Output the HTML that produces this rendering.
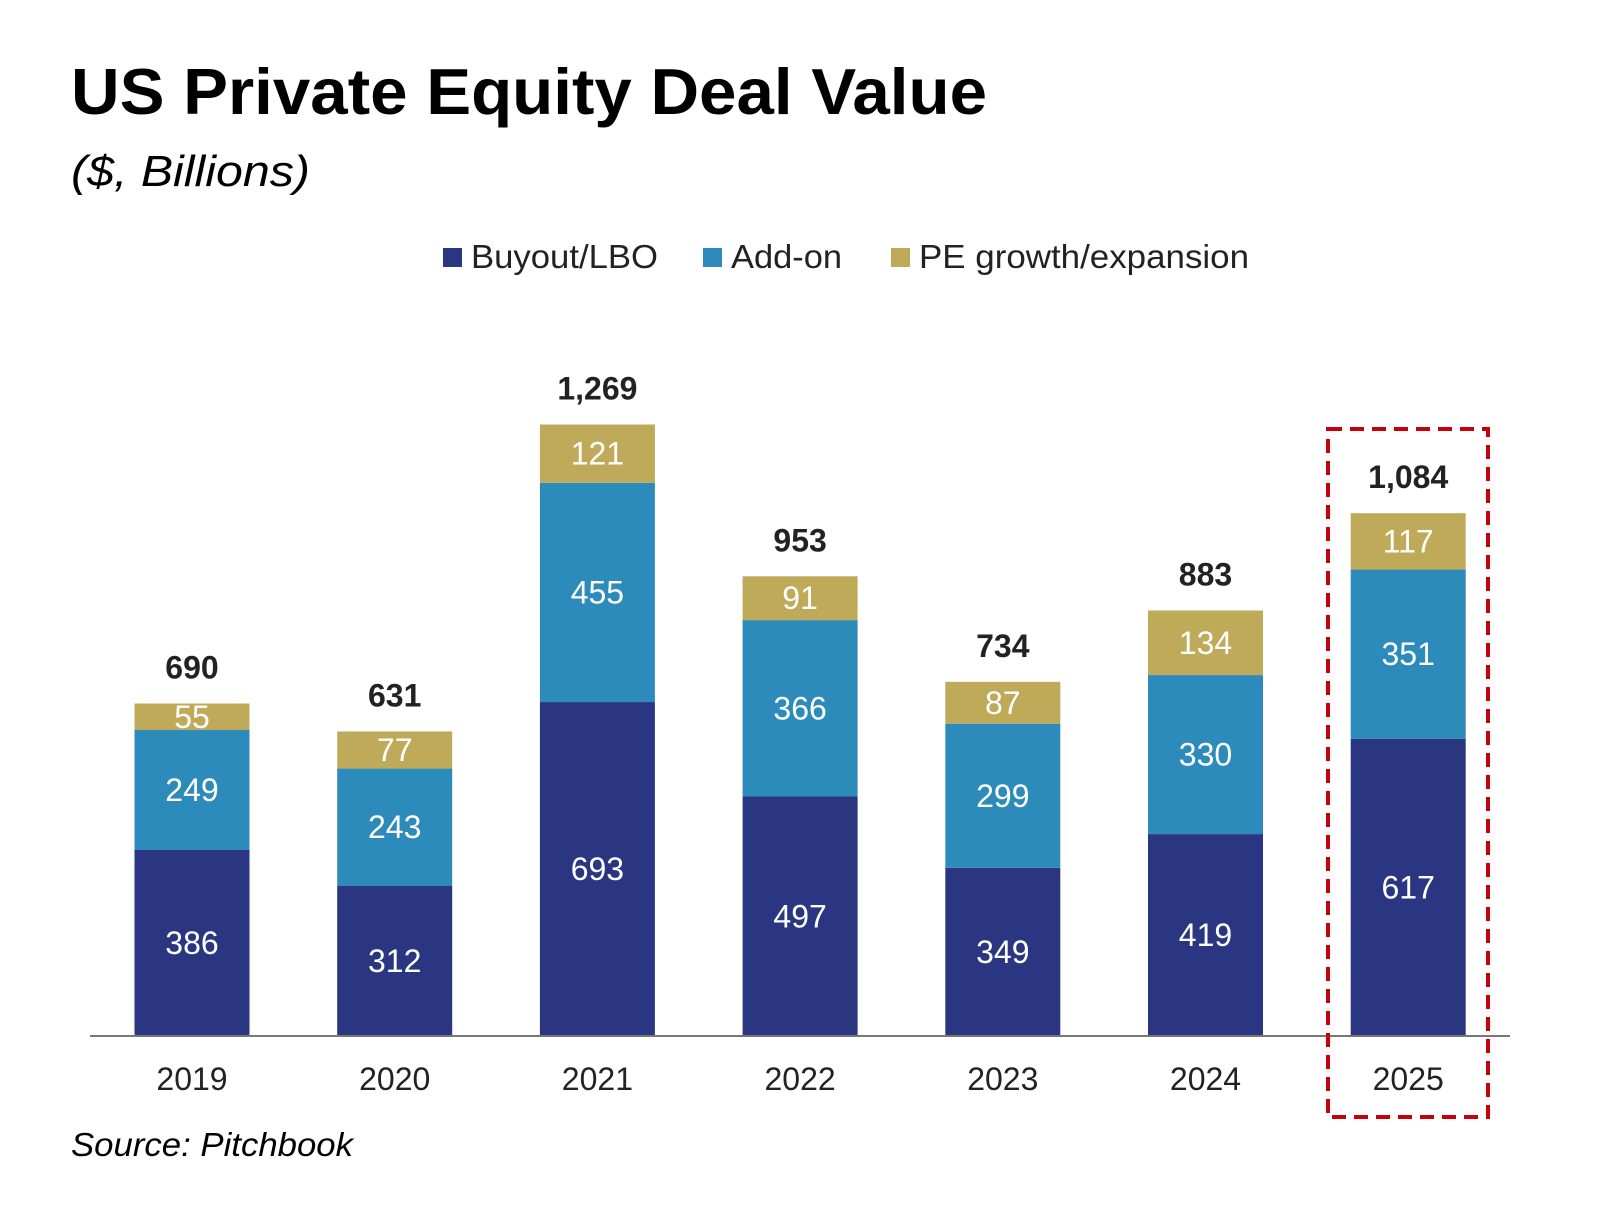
<!DOCTYPE html>
<html><head><meta charset="utf-8"><style>
body{margin:0;background:#fff;width:1600px;height:1200px;overflow:hidden;font-family:"Liberation Sans",sans-serif}
</style></head><body>
<svg id="c" width="1600" height="1200" xmlns="http://www.w3.org/2000/svg">
<text x="71" y="114" font-size="65" font-weight="bold" fill="#000" textLength="916" lengthAdjust="spacingAndGlyphs">US Private Equity Deal Value</text>
<text x="71" y="186" font-size="44" font-style="italic" fill="#000" textLength="239" lengthAdjust="spacingAndGlyphs">($, Billions)</text>
<g>
<rect x="443" y="248" width="19" height="19" fill="#2b3682"/>
<text x="471" y="268" font-size="33" fill="#222" textLength="187" lengthAdjust="spacingAndGlyphs">Buyout/LBO</text>
<rect x="703" y="248" width="19" height="19" fill="#2d8bbb"/>
<text x="731" y="268" font-size="33" fill="#222" textLength="111" lengthAdjust="spacingAndGlyphs">Add-on</text>
<rect x="891" y="248" width="19" height="19" fill="#bfaa5a"/>
<text x="919" y="268" font-size="33" fill="#222" textLength="330" lengthAdjust="spacingAndGlyphs">PE growth/expansion</text>
</g>
<g id="bars"></g>
<line x1="90" y1="1036" x2="1510" y2="1036" stroke="#777" stroke-width="2"/>
<rect x="1328" y="429" width="160" height="688" fill="none" stroke="#c8000a" stroke-width="4" stroke-dasharray="14,8"/>
<text x="71" y="1156" font-size="33" font-style="italic" fill="#000" textLength="282" lengthAdjust="spacingAndGlyphs">Source: Pitchbook</text>
</svg>
<script>
const categories=["2019","2020","2021","2022","2023","2024","2025"];
const buyout=[386,312,693,497,349,419,617];
const addon=[249,243,455,366,299,330,351];
const growth=[55,77,121,91,87,134,117];
const totals=["690","631","1,269","953","734","883","1,084"];
const NS="http://www.w3.org/2000/svg";
const g=document.getElementById('bars');
const baseY=1036, k=611.5/1269, x0=192, step=202.7, bw=115;
const xc=i=>x0+i*step;
const y=v=>baseY-v*k;
function mk(tag,attrs){const e=document.createElementNS(NS,tag);for(const a in attrs)e.setAttribute(a,attrs[a]);g.appendChild(e);return e;}
const series=[[buyout,"#2b3682","buyout"],[addon,"#2d8bbb","addon"],[growth,"#bfaa5a","growth"]];
categories.forEach((c,i)=>{
  let acc=0;
  series.forEach(([arr,col,nm])=>{
    const v=arr[i];
    const r=mk('rect',{x:xc(i)-bw/2,y:y(acc+v),width:bw,height:v*k,fill:col});
    
    
    const t=mk('text',{x:xc(i),y:y(acc+v/2)+11,'font-size':32,fill:'#fff','text-anchor':'middle'});
    t.textContent=v;
    
    
    acc+=v;
  });
  const tt=mk('text',{x:xc(i),y:y(acc)-25,'font-size':32,'font-weight':'bold',fill:'#222','text-anchor':'middle'});
  tt.textContent=totals[i];
  
  
  const xl=mk('text',{x:xc(i),y:1090,'font-size':32,fill:'#222','text-anchor':'middle'});
  xl.textContent=c;
  
  
});
</script>
</body></html>
